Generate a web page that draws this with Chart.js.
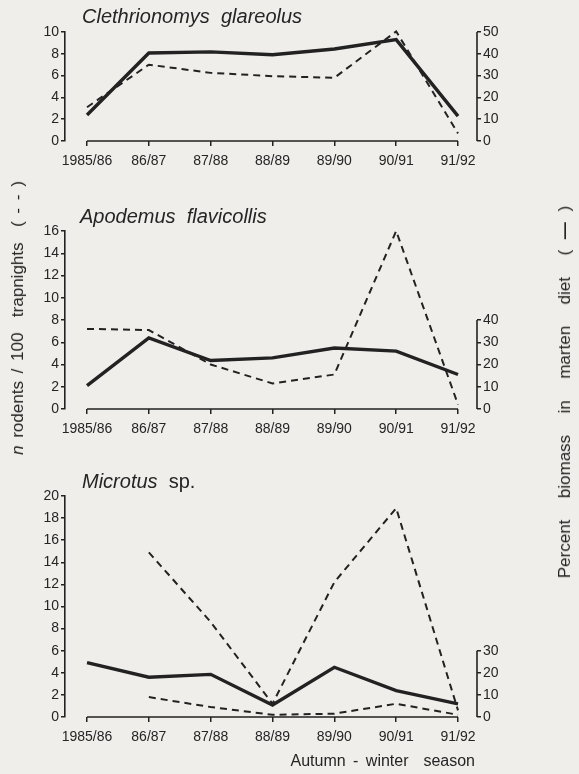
<!DOCTYPE html>
<html>
<head>
<meta charset="utf-8">
<script src="https://cdn.jsdelivr.net/npm/chart.js@4.4.1/dist/chart.umd.min.js"></script>
<style>
  html, body { margin:0; padding:0; background:#efeeeb; }
  body { width:579px; height:774px; position:relative; overflow:hidden; font-family:"Liberation Sans", Arial, sans-serif; color:#252525; }
  canvas { position:absolute; left:0; }
  .title { position:absolute; font-size:20px; font-style:italic; white-space:nowrap; }
  .title span { font-style:normal; }
  .rot { position:absolute; white-space:nowrap; font-size:17px; transform:translate(-50%,-50%) rotate(-90deg); word-spacing:3px; }
  .xt { position:absolute; font-size:16px; white-space:nowrap; word-spacing:3px; }
</style>
</head>
<body>
<canvas id="c1" width="579" height="185" style="top:0px"></canvas>
<canvas id="c2" width="579" height="260" style="top:190px"></canvas>
<canvas id="c3" width="579" height="324" style="top:450px"></canvas>

<div class="title" style="left:82px; top:5px;">Clethrionomys&nbsp; glareolus</div>
<div class="title" style="left:80px; top:205px;">Apodemus&nbsp; flavicollis</div>
<div class="title" style="left:82px; top:470px;">Microtus&nbsp; <span>sp.</span></div>
<div class="rot" style="left:18px; top:318px;"><i>n</i> rodents / 100&nbsp; trapnights&nbsp; ( - - )</div>
<div class="rot" style="left:565px; top:392px; word-spacing:6px;">Percent&nbsp; biomass&nbsp; in&nbsp; marten&nbsp; diet&nbsp; ( <b>—</b> )</div>
<div class="xt" style="right:104px; top:752px;">Autumn - winter&nbsp; season</div>

<script>
// ---- data ----
const seasons = ["1985/86", "86/87", "87/88", "88/89", "89/90", "90/91", "91/92"];

// Clethrionomys glareolus
const clethRodents = [3.1, 7.0, 6.25, 5.95, 5.8, 10.05, 0.7];      // n / 100 trapnights (dashed, left axis)
const clethBiomass = [11.9, 40.4, 40.9, 39.6, 42.2, 46.5, 11.4];   // % biomass (solid, right axis)
const clethLeftTicks = [0, 2, 4, 6, 8, 10];
const clethRightTicks = [0, 10, 20, 30, 40, 50];

// Apodemus flavicollis
const apoRodents = [7.2, 7.1, 4.0, 2.3, 3.1, 16.0, 0.4];
const apoBiomass = [10.5, 32, 21.8, 23, 27.4, 26, 15.5];
const apoLeftTicks = [0, 2, 4, 6, 8, 10, 12, 14, 16];
const apoRightTicks = [0, 10, 20, 30, 40];

// Microtus sp.
const micRodentsA = [null, 14.9, 8.6, 1.2, 12.2, 18.9, 0.6];
const micRodentsB = [null, 1.8, 0.9, 0.2, 0.3, 1.2, 0.2];
const micBiomass = [24.6, 18, 19.3, 5.4, 22.5, 11.9, 5.9];
const micLeftTicks = [0, 2, 4, 6, 8, 10, 12, 14, 16, 18, 20];
const micRightTicks = [0, 10, 20, 30];

// ---- style ----
const INK = "#222222";
const TXT = "#252525";
const FONT = { family: "'Liberation Sans', Arial, sans-serif", size: 14 };

const toPts = arr => arr.map((v, i) => ({ x: i, y: v }));

const axisLines = {
  id: "axisLines",
  afterDraw(chart, args, opts) {
    const { ctx, chartArea, scales } = chart;
    const x = scales.x, y2 = scales.y2;
    ctx.save();
    ctx.strokeStyle = INK;
    ctx.lineWidth = 1.6;
    ctx.beginPath();
    ctx.moveTo(x.getPixelForValue(0), chartArea.bottom);
    ctx.lineTo(x.getPixelForValue(seasons.length - 1), chartArea.bottom);
    const rx = chartArea.right;
    ctx.moveTo(rx, y2.getPixelForValue(0));
    ctx.lineTo(rx, y2.getPixelForValue(opts.rightTop));
    ctx.stroke();
    ctx.restore();
  }
};

function makeChart(id, cfg) {
  const datasets = cfg.dashed.map(d => ({
    data: toPts(d), yAxisID: "y", borderColor: INK, borderWidth: 2,
    borderDash: [7, 5], pointRadius: 0, fill: false, tension: 0, clip: false
  }));
  datasets.push({
    data: toPts(cfg.solid), yAxisID: "y2", borderColor: INK, borderWidth: 3.4,
    pointRadius: 0, fill: false, tension: 0, clip: false
  });
  const leftTicks = cfg.leftTicks, rightTicks = cfg.rightTicks;
  return new Chart(document.getElementById(id), {
    type: "line",
    data: { datasets },
    plugins: [axisLines],
    options: {
      responsive: false, animation: false, devicePixelRatio: 1,
      layout: { padding: { left: 0, right: 42, top: cfg.padTop, bottom: cfg.padBottom } },
      plugins: { legend: { display: false }, tooltip: { enabled: false }, axisLines: { rightTop: rightTicks[rightTicks.length - 1] } },
      scales: {
        x: {
          type: "linear", min: -0.356, max: 6.307,
          afterBuildTicks: s => { s.ticks = seasons.map((_, i) => ({ value: i })); },
          afterFit: s => { s.height = 30; },
          ticks: { callback: v => seasons[v], autoSkip: false, maxRotation: 0, font: FONT, color: TXT, padding: 7 },
          grid: { drawOnChartArea: false, drawTicks: true, tickLength: 5, color: INK, lineWidth: 1.5 },
          border: { display: false }
        },
        y: {
          position: "left", min: 0, max: leftTicks[leftTicks.length - 1],
          afterBuildTicks: s => { s.ticks = leftTicks.map(v => ({ value: v })); },
          afterFit: s => { s.width = 65; },
          ticks: { font: FONT, color: TXT, padding: 2 },
          grid: { drawOnChartArea: false, drawTicks: true, tickLength: 4, color: INK, lineWidth: 1.5 },
          border: { display: true, color: INK, width: 1.6 }
        },
        y2: {
          position: "right", min: 0, max: cfg.rightMax,
          afterBuildTicks: s => { s.ticks = rightTicks.map(v => ({ value: v })); },
          afterFit: s => { s.width = 60; },
          ticks: { font: FONT, color: TXT, padding: 2 },
          grid: { drawOnChartArea: false, drawTicks: true, tickLength: 4, color: INK, lineWidth: 1.5 },
          border: { display: false }
        }
      }
    }
  });
}

makeChart("c1", { dashed: [clethRodents], solid: clethBiomass, leftTicks: clethLeftTicks, rightTicks: clethRightTicks, rightMax: 50, padTop: 32, padBottom: 14 });
makeChart("c2", { dashed: [apoRodents], solid: apoBiomass, leftTicks: apoLeftTicks, rightTicks: apoRightTicks, rightMax: 80, padTop: 41, padBottom: 11 });
makeChart("c3", { dashed: [micRodentsA, micRodentsB], solid: micBiomass, leftTicks: micLeftTicks, rightTicks: micRightTicks, rightMax: 100, padTop: 46, padBottom: 27 });
</script>
</body>
</html>
